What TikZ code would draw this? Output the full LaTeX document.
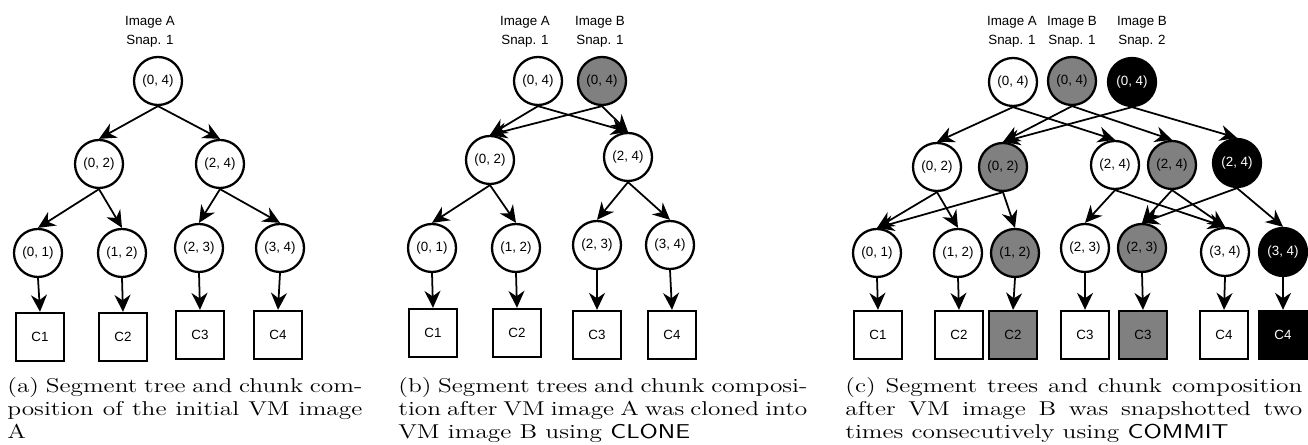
\documentclass[tikz,border=0pt]{standalone}
\usepackage{fontspec}
\usepackage{tikz}
\usetikzlibrary{arrows.meta}
\newfontfamily\diagfont{Liberation Sans}
\newfontfamily\captionfont{Latin Modern Roman}[FakeStretch=1.265]
\newfontfamily\captionsans{Latin Modern Sans}[FakeStretch=1.265]
\definecolor{snapgray}{RGB}{128,128,128}

\begin{document}
\begin{tikzpicture}[
    roundnode/.style={circle, draw=black, line width=1.3pt, minimum size=9.6mm, inner sep=0pt, font=\diagfont\fontsize{7.6}{9}\selectfont},
    chunknode/.style={rectangle, draw=black, line width=1.3pt, minimum size=9.6mm, inner sep=0pt, font=\diagfont\fontsize{7.6}{9}\selectfont},
    snaplabel/.style={align=center, font=\diagfont\fontsize{7.6}{10.8}\selectfont},
    pointer/.style={-{Stealth[length=3.4mm, width=3.2mm, inset=1.1mm]}, line width=1pt},
    subcaption/.style={anchor=north west, inner sep=0pt, align=justify, font=\captionfont\fontsize{11.4}{13.1}\selectfont}
]
    \useasboundingbox (0,0) rectangle (26.16,8.9);

    % (a) Initial VM image A
    % - [Fig: Snapshot label]
    \node at (3.00, 8.26) [snaplabel](a_label){Image A\\Snap. 1};
    % - [Fig: Segment tree]
    \node at (3.16, 7.28) [roundnode](a_04){(0, 4)};
    \node at (1.98, 5.62) [roundnode](a_02){(0, 2)};
    \node at (4.40, 5.62) [roundnode](a_24){(2, 4)};
    \node at (0.76, 3.84) [roundnode](a_01){(0, 1)};
    \node at (2.44, 3.84) [roundnode](a_12){(1, 2)};
    \node at (3.98, 3.94) [roundnode](a_23){(2, 3)};
    \node at (5.60, 3.94) [roundnode](a_34){(3, 4)};
    % -- The chunks
    \node at (0.80, 2.16) [chunknode](a_c1){C1};
    \node at (2.46, 2.16) [chunknode](a_c2){C2};
    \node at (4.00, 2.20) [chunknode](a_c3){C3};
    \node at (5.56, 2.20) [chunknode](a_c4){C4};
    % -- Connect the tree
    \draw [pointer] (a_04.south) -- (a_02.north);
    \draw [pointer] (a_04.south) -- (a_24.north);
    \draw [pointer] (a_02.south) -- (a_01.north);
    \draw [pointer] (a_02.south) -- (a_12.north);
    \draw [pointer] (a_24.south) -- (a_23.north);
    \draw [pointer] (a_24.south) -- (a_34.north);
    \draw [pointer] (a_01.south) -- (a_c1.north);
    \draw [pointer] (a_12.south) -- (a_c2.north);
    \draw [pointer] (a_23.south) -- (a_c3.north);
    \draw [pointer] (a_34.south) -- (a_c4.north);
    % - [Caption]
    \node at (0.14, 1.36) [subcaption, text width=7.1cm](a_caption){(a) Segment tree and chunk com-\linebreak position of the initial VM image\linebreak A};


    % (b) After CLONE
    % - [Fig: Snapshot labels]
    \node at (10.50, 8.26) [snaplabel](b_labelA){Image A\\Snap. 1};
    \node at (12.00, 8.26) [snaplabel](b_labelB){Image B\\Snap. 1};
    % - [Fig: Segment trees]
    \node at (10.76, 7.28) [roundnode](b_04A){(0, 4)};
    \node at (12.04, 7.28) [roundnode, fill=snapgray](b_04B){(0, 4)};
    \node at (9.80, 5.70) [roundnode](b_02){(0, 2)};
    \node at (12.56, 5.76) [roundnode](b_24){(2, 4)};
    \node at (8.64, 3.94) [roundnode](b_01){(0, 1)};
    \node at (10.32, 3.94) [roundnode](b_12){(1, 2)};
    \node at (11.94, 4.00) [roundnode](b_23){(2, 3)};
    \node at (13.40, 4.00) [roundnode](b_34){(3, 4)};
    % -- The chunks
    \node at (8.66, 2.24) [chunknode](b_c1){C1};
    \node at (10.34, 2.24) [chunknode](b_c2){C2};
    \node at (11.94, 2.20) [chunknode](b_c3){C3};
    \node at (13.44, 2.20) [chunknode](b_c4){C4};
    % -- Both roots share the same children
    \draw [pointer] (b_04A.south) -- (b_02.north);
    \draw [pointer] (b_04A.south) -- (b_24.north);
    \draw [pointer] (b_04B.south) -- (b_02.north);
    \draw [pointer] (b_04B.south) -- (b_24.north);
    \draw [pointer] (b_02.south) -- (b_01.north);
    \draw [pointer] (b_02.south) -- (b_12.north);
    \draw [pointer] (b_24.south) -- (b_23.north);
    \draw [pointer] (b_24.south) -- (b_34.north);
    \draw [pointer] (b_01.south) -- (b_c1.north);
    \draw [pointer] (b_12.south) -- (b_c2.north);
    \draw [pointer] (b_23.south) -- (b_c3.north);
    \draw [pointer] (b_34.south) -- (b_c4.north);
    % - [Caption]
    \node at (7.96, 1.36) [subcaption, text width=8.18cm](b_caption){(b) Segment trees and chunk composi-\linebreak tion after VM image A was cloned into\linebreak VM image B using {\captionsans CLONE}};


    % (c) After two COMMITs
    % - [Fig: Snapshot labels]
    \node at (20.24, 8.26) [snaplabel](c_labelA){Image A\\Snap. 1};
    \node at (21.44, 8.26) [snaplabel](c_labelB1){Image B\\Snap. 1};
    \node at (22.84, 8.26) [snaplabel](c_labelB2){Image B\\Snap. 2};
    % - [Fig: Segment trees]
    \node at (20.26, 7.26) [roundnode](c_04A){(0, 4)};
    \node at (21.44, 7.28) [roundnode, fill=snapgray](c_04B1){(0, 4)};
    \node at (22.64, 7.26) [roundnode, fill=black, text=white](c_04B2){(0, 4)};
    % -- Second level
    \node at (18.74, 5.56) [roundnode](c_02A){(0, 2)};
    \node at (20.06, 5.56) [roundnode, fill=snapgray](c_02B){(0, 2)};
    \node at (22.30, 5.60) [roundnode](c_24A){(2, 4)};
    \node at (23.44, 5.60) [roundnode, fill=snapgray](c_24B1){(2, 4)};
    \node at (24.74, 5.64) [roundnode, fill=black, text=white](c_24B2){(2, 4)};
    % -- Third level
    \node at (17.54, 3.84) [roundnode](c_01A){(0, 1)};
    \node at (19.16, 3.84) [roundnode](c_12A){(1, 2)};
    \node at (20.30, 3.84) [roundnode, fill=snapgray](c_12B){(1, 2)};
    \node at (21.70, 3.94) [roundnode](c_23A){(2, 3)};
    \node at (22.84, 3.94) [roundnode, fill=snapgray](c_23B){(2, 3)};
    \node at (24.50, 3.86) [roundnode](c_34A){(3, 4)};
    \node at (25.66, 3.86) [roundnode, fill=black, text=white](c_34B){(3, 4)};
    % -- The chunks
    \node at (17.56, 2.20) [chunknode](c_c1A){C1};
    \node at (19.18, 2.20) [chunknode](c_c2A){C2};
    \node at (20.26, 2.20) [chunknode, fill=snapgray](c_c2B){C2};
    \node at (21.70, 2.20) [chunknode](c_c3A){C3};
    \node at (22.86, 2.20) [chunknode, fill=snapgray](c_c3B){C3};
    \node at (24.48, 2.20) [chunknode](c_c4A){C4};
    \node at (25.66, 2.20) [chunknode, fill=black, text=white](c_c4B){C4};
    % -- Connect the roots
    \draw [pointer] (c_04A.south) -- (c_02A.north);
    \draw [pointer] (c_04A.south) -- (c_24A.north);
    \draw [pointer] (c_04B1.south) -- (c_02B.north);
    \draw [pointer] (c_04B1.south) -- (c_24B1.north);
    \draw [pointer] (c_04B2.south) -- (c_02B.north);
    \draw [pointer] (c_04B2.south) -- (c_24B2.north);
    % -- Connect the second level
    \draw [pointer] (c_02A.south) -- (c_01A.north);
    \draw [pointer] (c_02A.south) -- (c_12A.north);
    \draw [pointer] (c_02B.south) -- (c_01A.north);
    \draw [pointer] (c_02B.south) -- (c_12B.north);
    \draw [pointer] (c_24A.south) -- (c_23A.north);
    \draw [pointer] (c_24A.south) -- (c_34A.north);
    \draw [pointer] (c_24B1.south) -- (c_23B.north);
    \draw [pointer] (c_24B1.south) -- (c_34A.north);
    \draw [pointer] (c_24B2.south) -- (c_23B.north);
    \draw [pointer] (c_24B2.south) -- (c_34B.north);
    % -- Connect the chunks
    \draw [pointer] (c_01A.south) -- (c_c1A.north);
    \draw [pointer] (c_12A.south) -- (c_c2A.north);
    \draw [pointer] (c_12B.south) -- (c_c2B.north);
    \draw [pointer] (c_23A.south) -- (c_c3A.north);
    \draw [pointer] (c_23B.south) -- (c_c3B.north);
    \draw [pointer] (c_34A.south) -- (c_c4A.north);
    \draw [pointer] (c_34B.south) -- (c_c4B.north);
    % - [Caption]
    \node at (16.90, 1.36) [subcaption, text width=9.14cm](c_caption){(c) Segment trees and chunk composition\linebreak after VM image B was snapshotted two\linebreak times consecutively using {\captionsans COMMIT}};

\end{tikzpicture}
\end{document}
